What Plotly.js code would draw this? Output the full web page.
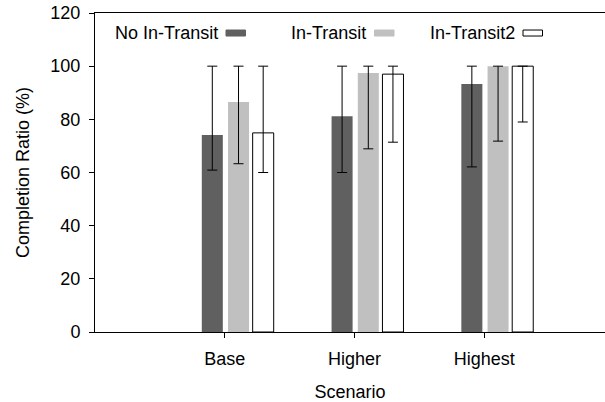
<!DOCTYPE html>
<html>
<head>
<meta charset="utf-8">
<script src="https://cdn.plot.ly/plotly-3.0.1.min.js"></script>
<style>html,body{margin:0;padding:0;background:#fff}#chart{width:605px;height:402px}</style>
</head>
<body>
<div id="chart"></div>
<script>
// Data
var categories = ["Base", "Higher", "Highest"];
var seriesNames = ["No In-Transit", "In-Transit", "In-Transit2"];
var noInTransit = [74.1, 81.2, 93.3];
var noInTransitHigh = [100, 100, 100];
var noInTransitLow = [60.9, 60.0, 62.1];
var inTransit = [86.5, 97.4, 100];
var inTransitHigh = [100, 100, 100];
var inTransitLow = [63.3, 68.9, 71.8];
var inTransit2 = [74.9, 97.0, 100];
var inTransit2High = [100, 100, 100];
var inTransit2Low = [60.0, 71.4, 79.0];
var yTicks = [0, 20, 40, 60, 80, 100, 120];

var xPos = categories.map(function (c, i) { return i + 1; });
var fontFam = 'Liberation Sans, Arial, sans-serif';
var FS = 18;

function mk(name, vals, hi, lo, color, lineColor, lineW, offset) {
  return {
    type: 'bar', name: name, x: xPos, y: vals,
    width: 0.162, offset: offset,
    marker: {color: color, line: {color: lineColor, width: lineW}},
    error_y: {
      type: 'data', symmetric: false,
      array: vals.map(function (v, i) { return hi[i] - v; }),
      arrayminus: vals.map(function (v, i) { return v - lo[i]; }),
      color: '#000', thickness: 1, width: 5
    },
    showlegend: false, hoverinfo: 'skip'
  };
}

var traces = [
  mk(seriesNames[0], noInTransit, noInTransitHigh, noInTransitLow, '#606060', '#606060', 0, -0.177),
  mk(seriesNames[1], inTransit, inTransitHigh, inTransitLow, '#c0c0c0', '#c0c0c0', 0, 0.025),
  mk(seriesNames[2], inTransit2, inTransit2High, inTransit2Low, '#ffffff', '#000000', 1, 0.215)
];

// legend drawn as text followed by a swatch on the right
var L = 95, B = 331.7, W = 510, H = 318.7;
var legItems = [
  {textLeft: 114, sw: 226, fill: '#606060', line: '#606060'},
  {textLeft: 289.5, sw: 374.5, fill: '#c0c0c0', line: '#c0c0c0'},
  {textLeft: 428.5, sw: 523, fill: '#ffffff', line: '#000000'}
];
var legY = 33;
var annotations = [], shapes = [];
legItems.forEach(function (it, i) {
  annotations.push({
    xref: 'paper', yref: 'paper', x: (it.textLeft - L) / W, y: (B - legY) / H,
    xanchor: 'left', yanchor: 'middle', showarrow: false, text: seriesNames[i],
    borderpad: 0, font: {family: fontFam, size: FS, color: '#000'}
  });
  shapes.push({
    type: 'rect', xref: 'paper', yref: 'paper',
    x0: (it.sw - L) / W, x1: (it.sw + 19.5 - L) / W,
    y0: (B - legY - 3) / H, y1: (B - legY + 3) / H,
    fillcolor: it.fill, line: {color: it.line, width: 1}
  });
});

var layout = {
  width: 605, height: 402,
  margin: {l: L, r: 0, t: 13, b: 402 - B},
  paper_bgcolor: '#fff', plot_bgcolor: '#fff',
  font: {family: fontFam, size: FS, color: '#000'},
  showlegend: false,
  xaxis: {
    range: [0, 3.93], tickvals: xPos, ticktext: categories,
    ticks: 'outside', ticklen: 5, tickcolor: '#000', tickwidth: 1,
    showline: true, linecolor: '#000', linewidth: 1, mirror: true,
    showgrid: false, zeroline: false, ticklabelstandoff: 5,
    title: {text: 'Scenario', font: {size: FS}, standoff: 19}
  },
  yaxis: {
    range: [0, 120], tickvals: yTicks,
    ticks: 'outside', ticklen: 5, tickcolor: '#000', tickwidth: 1,
    showline: true, linecolor: '#000', linewidth: 1, mirror: false,
    showgrid: false, zeroline: false, ticklabelstandoff: 5,
    title: {text: 'Completion Ratio (%)', font: {size: FS}, standoff: 16}
  },
  annotations: annotations, shapes: shapes
};

Plotly.newPlot('chart', traces, layout, {displayModeBar: false, staticPlot: true});
</script>
</body>
</html>
